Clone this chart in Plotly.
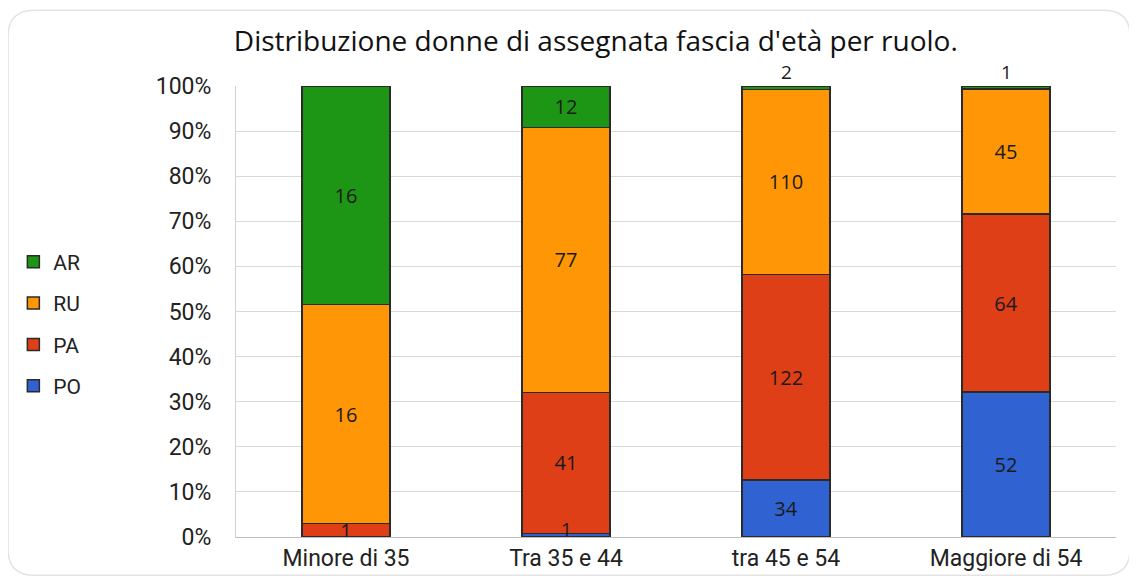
import plotly.graph_objects as go
import numpy as np

# fasce d'eta e conteggi per ruolo
categorie = ["Minore di 35", "Tra 35 e 44", "tra 45 e 54", "Maggiore di 54"]
po = [0, 1, 34, 52]
pa = [1, 41, 122, 64]
ru = [16, 77, 110, 45]
ar = [16, 12, 2, 1]

nomi = ["PO", "PA", "RU", "AR"]
colori = ["#3162D1", "#DE3F17", "#FF9605", "#1E9615"]
valori = [po, pa, ru, ar]

# percentuali cumulate, servono per le etichette dei segmenti piccoli
tab = np.array(valori, dtype=float)
perc = tab / tab.sum(axis=0) * 100
cum = np.minimum(perc.cumsum(axis=0), 100.0)

fig = go.Figure()
for k, (nome, vals, colore) in enumerate(zip(nomi, valori, colori)):
    # segmenti troppo piccoli (<2.5%) -> etichetta come annotazione
    testi = [str(v) if (v > 0 and perc[k][i] >= 2.5) else "" for i, v in enumerate(vals)]
    fig.add_trace(go.Bar(
        x=categorie, y=vals, name=nome, legendgroup=nome,
        legendrank=len(nomi) - k,
        marker=dict(color=colore, line=dict(color="#2a2a2a", width=1.5)),
        width=0.4,
        text=testi,
        textposition="inside",
        textangle=0,
        textfont=dict(family="Open Sans", size=20, color="#1a1a1a"),
        insidetextanchor="middle",
        constraintext="none",
    ))

# etichette dei segmenti piccoli
for k in range(len(nomi)):
    for i, cat in enumerate(categorie):
        if valori[k][i] > 0 and perc[k][i] < 2.5:
            sopra = (k == len(nomi) - 1)
            fig.add_annotation(x=cat, y=cum[k][i], text=str(valori[k][i]),
                               yanchor="bottom", showarrow=False,
                               yshift=-1 if sopra else -10,
                               font=dict(family="Open Sans", size=19, color="#1a1a1a"))

#layout generale
fig.update_layout(
    barmode="stack",
    barnorm="percent",
    width=1137, height=578,
    paper_bgcolor="white",
    plot_bgcolor="white",
    margin=dict(l=228, r=29, t=78, b=49, autoexpand=False),
    title=dict(
        text="Distribuzione donne di assegnata fascia d'età per ruolo.",
        font=dict(family="Open Sans", size=28, color="#111"),
        x=0.517, xanchor="center", y=0.943, yanchor="middle",
    ),
    legend=dict(
        x=-0.253, xanchor="left", y=0.472, yanchor="middle",
        traceorder="grouped",
        font=dict(family="Roboto", size=21, color="#222"),
        bgcolor="rgba(0,0,0,0)",
        itemwidth=30,
        tracegroupgap=11,
    ),
    font=dict(family="Roboto", color="#222"),
)

fig.update_yaxes(
    range=[0, 100], dtick=10, ticksuffix="%",
    showgrid=True, gridcolor="#d9d9d9",
    showline=True, linecolor="#d0d0d0",
    tickfont=dict(size=23, color="#222"),
    ticklen=0, ticks="", ticklabelstandoff=19,
    automargin=False,
)
fig.update_xaxes(
    showline=True, linecolor="#bfbfbf",
    tickfont=dict(size=23, color="#222"),
    automargin=False,
)

# cornice con angoli arrotondati
x0, x1, y0, y1 = -0.259, 1.016, -0.085, 1.168
rx, ry = 0.03, 0.058
percorso = (f"M {x0+rx},{y1} L {x1-rx},{y1} Q {x1},{y1} {x1},{y1-ry} "
            f"L {x1},{y0+ry} Q {x1},{y0} {x1-rx},{y0} L {x0+rx},{y0} "
            f"Q {x0},{y0} {x0},{y0+ry} L {x0},{y1-ry} Q {x0},{y1} {x0+rx},{y1} Z")
fig.add_shape(type="path", xref="paper", yref="paper", path=percorso,
              line=dict(color="#e3e3e3", width=1.5), layer="below")

fig.write_html("out.html")
